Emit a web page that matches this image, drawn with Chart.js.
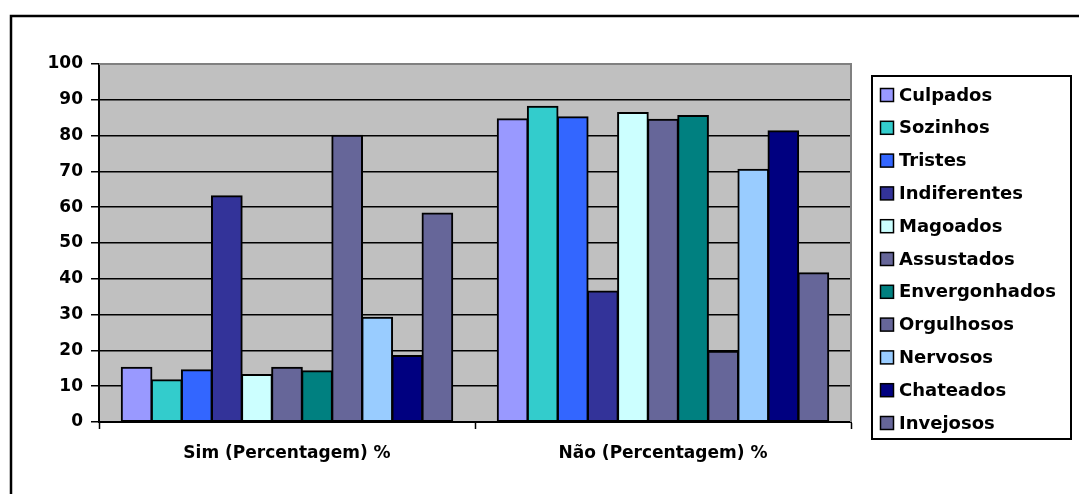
<!DOCTYPE html>
<html lang="pt">
<head>
<meta charset="utf-8">
<title>Sentimentos (Sim / Não)</title>
<script src="https://cdn.jsdelivr.net/npm/chart.js@4/dist/chart.umd.min.js"></script>
<style>
  html, body { margin: 0; padding: 0; background: #ffffff; overflow: hidden; }
  #wrap { position: relative; width: 1079px; height: 494px; }
</style>
</head>
<body>
<div id="wrap"><canvas id="chart" width="1079" height="494"></canvas></div>
<script>
// Answer groups on the category axis
const categories = ['Sim (Percentagem) %', 'Não (Percentagem) %'];

// One series per feeling
const feelings = ['Culpados', 'Sozinhos', 'Tristes', 'Indiferentes', 'Magoados',
  'Assustados', 'Envergonhados', 'Orgulhosos', 'Nervosos', 'Chateados', 'Invejosos'];

// Percentage answering "Sim" and "Não" for each feeling
const simPct = [15.2, 11.7, 14.5, 63.1, 13.2, 15.2, 14.2, 80.0, 29.2, 18.5, 58.3];
const naoPct = [84.6, 88.1, 85.2, 36.5, 86.4, 84.5, 85.5, 19.7, 70.5, 81.3, 41.6];

// Value axis tick labels
const yTickValues = [0, 10, 20, 30, 40, 50, 60, 70, 80, 90, 100];

const fillColors = ['#9999FF', '#33CCCC', '#3366FF', '#333399', '#CCFFFF',
  '#666699', '#008080', '#666699', '#99CCFF', '#000080', '#666699'];

const FONT = 'DejaVu Sans';

const datasets = feelings.map((name, i) => ({
  label: name,
  data: [simPct[i], naoPct[i]],
  backgroundColor: fillColors[i],
  borderColor: '#000000',
  borderWidth: 2,
  borderSkipped: false,
  inflateAmount: 0.8,
  barPercentage: 1.0,
  categoryPercentage: 0.88
}));

// Page frame, grey plot area and its border
const plotBackground = {
  id: 'plotBackground',
  beforeDraw(chart) {
    const { ctx, chartArea: a } = chart;
    ctx.save();
    ctx.fillStyle = '#ffffff';
    ctx.fillRect(0, 0, chart.width, chart.height);
    ctx.strokeStyle = '#000000';
    ctx.lineWidth = 2.5;
    ctx.beginPath();
    ctx.moveTo(11, chart.height + 5);
    ctx.lineTo(11, 16);
    ctx.lineTo(chart.width + 5, 16);
    ctx.stroke();
    ctx.fillStyle = '#C0C0C0';
    ctx.fillRect(a.left, a.top, a.right - a.left, a.bottom - a.top);
    ctx.restore();
  },
  beforeDatasetsDraw(chart) {
    const { ctx, chartArea: a } = chart;
    ctx.save();
    ctx.strokeStyle = '#808080';
    ctx.lineWidth = 2;
    ctx.beginPath();
    ctx.moveTo(a.left, a.top);
    ctx.lineTo(a.right, a.top);
    ctx.lineTo(a.right, a.bottom);
    ctx.stroke();
    ctx.restore();
  }
};

// Boxed legend on the right, built from the datasets
const boxedLegend = {
  id: 'boxedLegend',
  afterDraw(chart) {
    const { ctx } = chart;
    const box = { x: 872, y: 76, w: 199, h: 363 };
    const ds = chart.data.datasets;
    ctx.save();
    ctx.fillStyle = '#ffffff';
    ctx.fillRect(box.x, box.y, box.w, box.h);
    ctx.strokeStyle = '#000000';
    ctx.lineWidth = 2;
    ctx.strokeRect(box.x, box.y, box.w, box.h);
    const pitch = 32.8;
    const firstY = 95;
    ctx.font = 'bold 18px "' + FONT + '"';
    ctx.textBaseline = 'middle';
    ctx.textAlign = 'left';
    ds.forEach((d, i) => {
      const cy = firstY + i * pitch;
      ctx.fillStyle = d.backgroundColor;
      ctx.fillRect(880.5, cy - 6.5, 13, 13);
      ctx.strokeStyle = '#000000';
      ctx.lineWidth = 1.5;
      ctx.strokeRect(880.5, cy - 6.5, 13, 13);
      ctx.fillStyle = '#000000';
      ctx.fillText(d.label, 899, cy + 1);
    });
    ctx.restore();
  }
};

new Chart(document.getElementById('chart'), {
  type: 'bar',
  data: { labels: categories, datasets },
  plugins: [plotBackground, boxedLegend],
  options: {
    responsive: false,
    maintainAspectRatio: false,
    devicePixelRatio: 1,
    animation: false,
    layout: { padding: { left: 0, right: 228, top: 64, bottom: 0 } },
    plugins: {
      legend: { display: false },
      tooltip: { enabled: false },
      title: { display: false }
    },
    scales: {
      x: {
        offset: true,
        grid: {
          offset: true,
          drawOnChartArea: false,
          drawTicks: true,
          tickLength: 7,
          tickColor: '#000000',
          tickWidth: 1.5
        },
        border: { display: true, color: '#000000', width: 2 },
        ticks: {
          color: '#000000',
          padding: 14,
          font: { family: FONT, size: 17, weight: 'bold' }
        },
        afterFit(axis) { axis.height = 72; }
      },
      y: {
        min: 0,
        max: 100,
        afterBuildTicks(axis) { axis.ticks = yTickValues.map(v => ({ value: v })); },
        grid: {
          color: (c) => (c.tick && c.tick.value === 100) ? 'rgba(0,0,0,0)' : '#000000',
          lineWidth: 1.5,
          drawTicks: true,
          tickLength: 8,
          tickColor: '#000000',
          tickWidth: 1.5
        },
        border: { display: true, color: '#000000', width: 2 },
        ticks: {
          color: '#000000',
          padding: 8,
          font: { family: FONT, size: 17, weight: 'bold' }
        },
        afterFit(axis) { axis.width = 99; }
      }
    }
  }
});
</script>
</body>
</html>
